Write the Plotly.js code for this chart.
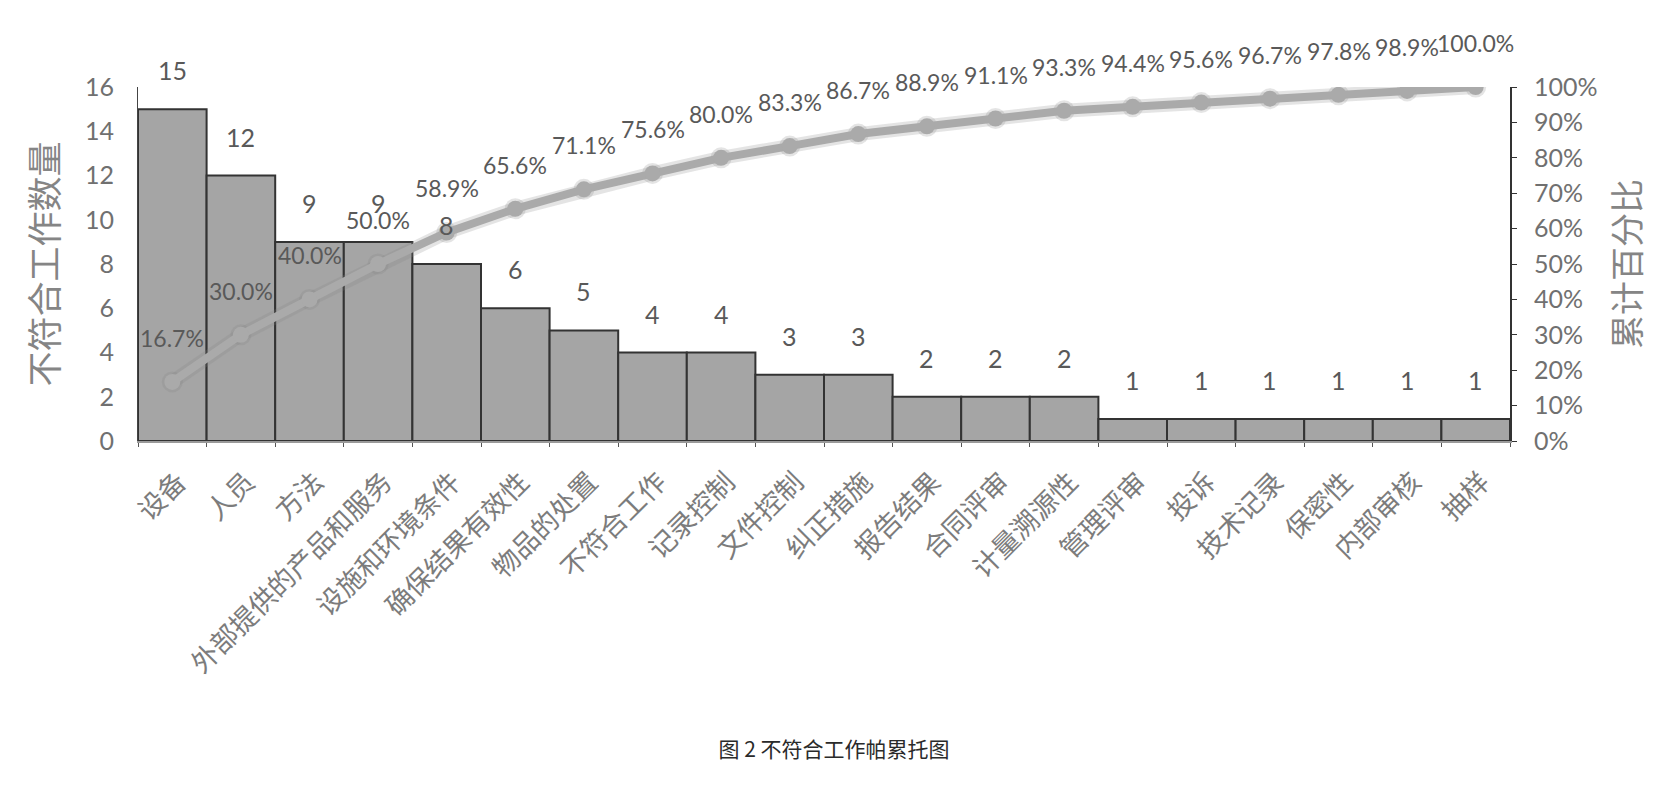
<!DOCTYPE html>
<html>
<head>
<meta charset="utf-8">
<script src="https://cdn.plot.ly/plotly-3.0.1.min.js"></script>
<style>
html,body{margin:0;padding:0;background:#fff;}
#chart{width:1668px;height:792px;}
</style>
</head>
<body>
<div id="chart"></div>
<script>
// ---- data ----
const categories = ["设备","人员","方法","外部提供的产品和服务","设施和环境条件","确保结果有效性","物品的处置","不符合工作","记录控制","文件控制","纠正措施","报告结果","合同评审","计量溯源性","管理评审","投诉","技术记录","保密性","内部审核","抽样"];
const counts = [15,12,9,9,8,6,5,4,4,3,3,2,2,2,1,1,1,1,1,1];
const cumPct = [16.7,30.0,40.0,50.0,58.9,65.6,71.1,75.6,80.0,83.3,86.7,88.9,91.1,93.3,94.4,95.6,96.7,97.8,98.9,100.0];
const leftTitle = "不符合工作数量";
const rightTitle = "累计百分比";
const caption = "图 2 不符合工作帕累托图";

const numFont = "Lato, 'Noto Sans CJK SC', sans-serif";
const cjkFont = "'Noto Sans CJK SC', sans-serif";

const traces = [
  {
    type: 'bar', x: categories, y: counts, yaxis: 'y',
    marker: {color: '#a5a5a5', line: {color: '#333333', width: 2}},
    hoverinfo: 'skip'
  },
  {
    type: 'scatter', mode: 'lines+markers', x: categories, y: cumPct, yaxis: 'y2',
    line: {color: 'rgba(130,130,130,0.22)', width: 14},
    marker: {color: 'rgba(130,130,130,0.22)', size: 21},
    hoverinfo: 'skip'
  },
  {
    type: 'scatter', mode: 'lines+markers', x: categories, y: cumPct, yaxis: 'y2',
    line: {color: '#aaaaaa', width: 8},
    marker: {color: '#aaaaaa', size: 16},
    hoverinfo: 'skip'
  }
];

const annotations = [];
categories.forEach((c, i) => {
  annotations.push({
    x: c, y: counts[i], xref: 'x', yref: 'y', text: String(counts[i]),
    showarrow: false, yshift: 39, font: {family: numFont, size: 25, color: '#595959'}
  });
  annotations.push({
    x: c, y: cumPct[i], xref: 'x', yref: 'y2', text: cumPct[i].toFixed(1) + '%',
    showarrow: false, yshift: 44, font: {family: numFont, size: 23, color: '#595959'}
  });
});

const layout = {
  width: 1668, height: 792,
  margin: {l: 138, r: 158, t: 87, b: 351},
  paper_bgcolor: '#ffffff', plot_bgcolor: '#ffffff',
  showlegend: false,
  bargap: 0,
  title: {
    text: caption, x: 0.5, xanchor: 'center', y: 0.053, yanchor: 'middle', yref: 'container',
    font: {family: cjkFont, size: 21, color: '#2a2a2a'}
  },
  xaxis: {
    type: 'category', range: [-0.5, 19.5], tickangle: -45,
    tickfont: {family: cjkFont, size: 27, color: '#7c7c7c'},
    showline: true, linecolor: '#9a9a9a', linewidth: 1.5,
    ticks: 'outside', tickson: 'boundaries', ticklen: 4, tickcolor: '#555555',
    ticklabelstandoff: 13, ticklabelshift: 6,
    showgrid: false, zeroline: false, automargin: false
  },
  yaxis: {
    range: [0, 16], dtick: 2, tick0: 0,
    tickfont: {family: numFont, size: 25, color: '#707070'},
    showline: true, linecolor: '#444444', linewidth: 1,
    ticks: '', ticklabelstandoff: 18,
    showgrid: false, zeroline: false, automargin: false,
    title: {text: leftTitle, standoff: 15, font: {family: cjkFont, size: 35, color: '#858585'}}
  },
  yaxis2: {
    overlaying: 'y', side: 'right',
    range: [0, 100], dtick: 10, tick0: 0, ticksuffix: '%',
    tickfont: {family: numFont, size: 25, color: '#707070'},
    showline: true, linecolor: '#333333', linewidth: 2,
    ticks: 'outside', ticklen: 5, tickcolor: '#333333', ticklabelstandoff: 12,
    showgrid: false, zeroline: false, automargin: false,
    title: {text: rightTitle, standoff: 20, font: {family: cjkFont, size: 34, color: '#858585'}}
  },
  annotations: annotations
};

Plotly.newPlot('chart', traces, layout, {staticPlot: true, displayModeBar: false});
</script>
</body>
</html>
